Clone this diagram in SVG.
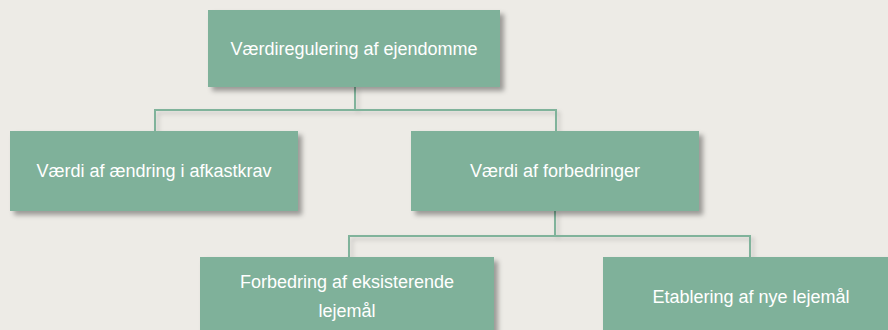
<svg xmlns="http://www.w3.org/2000/svg" width="888" height="330" viewBox="0 0 888 330">
<defs>
<filter id="sh" x="-10%" y="-10%" width="130%" height="140%">
<feDropShadow dx="4" dy="4" stdDeviation="2.5" flood-color="#000" flood-opacity="0.35"/>
</filter>
<filter id="lsh" x="-10%" y="-50%" width="130%" height="300%">
<feDropShadow dx="3" dy="3" stdDeviation="2" flood-color="#000" flood-opacity="0.18"/>
</filter>
<style>
.box{fill:#7fb19a;filter:url(#sh)}
.t{font-family:"Liberation Sans",Arial,sans-serif;font-size:18px;fill:#ffffff;text-anchor:middle}
.c{fill:none;stroke:#80b39b;stroke-width:2;filter:url(#lsh)}
</style>
</defs>
<rect width="888" height="330" fill="#edebe6"/>
<g id="connectors">
<path class="c" d="M355,87 V110 M155,131 V110 H556 V131"/>
<path class="c" d="M555,211 V236 M349,257 V236 H750 V257"/>
</g>
<g id="n1">
<rect class="box" x="208" y="10" width="292" height="77"/>
<text class="t" x="354" y="55">Værdiregulering af ejendomme</text>
</g>
<g id="n2">
<rect class="box" x="10" y="131" width="288" height="80"/>
<text class="t" x="154" y="177">Værdi af ændring i afkastkrav</text>
</g>
<g id="n3">
<rect class="box" x="411" y="131" width="288" height="80"/>
<text class="t" x="555" y="177">Værdi af forbedringer</text>
</g>
<g id="n4">
<rect class="box" x="200" y="257" width="294" height="80"/>
<text class="t" x="347" y="288">Forbedring af eksisterende</text>
<text class="t" x="347" y="317">lejemål</text>
</g>
<g id="n5">
<rect class="box" x="603" y="257" width="296" height="80"/>
<text class="t" x="751" y="303">Etablering af nye lejemål</text>
</g>
</svg>
